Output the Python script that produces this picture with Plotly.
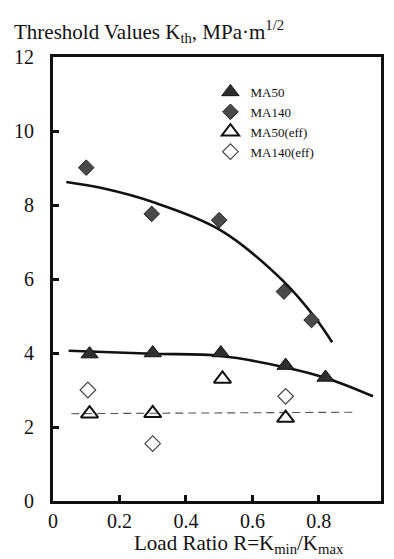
import plotly.graph_objects as go

# ---- data ----
ma50_r = [0.11, 0.30, 0.505, 0.70, 0.82]
ma50_k = [3.97, 4.00, 4.00, 3.66, 3.34]

ma140_r = [0.10, 0.297, 0.50, 0.695, 0.778]
ma140_k = [9.01, 7.76, 7.59, 5.66, 4.89]

ma50eff_r = [0.11, 0.30, 0.51, 0.70]
ma50eff_k = [2.36, 2.37, 3.30, 2.24]

ma140eff_r = [0.105, 0.30, 0.70]
ma140eff_k = [3.00, 1.55, 2.83]

fit140_r = [0.04, 0.15, 0.30, 0.50, 0.69, 0.79, 0.84]
fit140_k = [8.62, 8.45, 8.08, 7.34, 5.97, 4.94, 4.29]

fit50_r = [0.047, 0.30, 0.505, 0.70, 0.83, 0.963]
fit50_k = [4.06, 3.98, 3.92, 3.61, 3.30, 2.83]

fiteff_r = [0.055, 0.913]
fiteff_k = [2.36, 2.40]

xtick_vals = [0, 0.2, 0.4, 0.6, 0.8]
xtick_text = ["0", "0.2", "0.4", "0.6", "0.8"]
ytick_vals = [0, 2, 4, 6, 8, 10, 12]
ytick_text = ["0", "2", "4", "6", "8", "10", "12"]

SERIF = "Liberation Serif, Times New Roman, serif"

fig = go.Figure()

# fitted curves
fig.add_trace(go.Scatter(x=fit140_r, y=fit140_k, mode="lines", line=dict(color="#111", width=2.6, shape="spline"),
                         showlegend=False, hoverinfo="skip"))
fig.add_trace(go.Scatter(x=fit50_r, y=fit50_k, mode="lines", line=dict(color="#111", width=2.6, shape="spline"),
                         showlegend=False, hoverinfo="skip"))
fig.add_trace(go.Scatter(x=fiteff_r, y=fiteff_k, mode="lines", line=dict(color="#555", width=1.1, dash="8px,5px"),
                         showlegend=False, hoverinfo="skip"))

# data series
fig.add_trace(go.Scatter(x=ma50_r, y=ma50_k, mode="markers", name="MA50",
                         marker=dict(symbol="triangle-up", size=15, color="#2e2e2e",
                                     line=dict(color="#111", width=1))))
fig.add_trace(go.Scatter(x=ma140_r, y=ma140_k, mode="markers", name="MA140",
                         marker=dict(symbol="diamond", size=12, color="#4a4a4a",
                                     line=dict(color="#222", width=1))))
fig.add_trace(go.Scatter(x=ma50eff_r, y=ma50eff_k, mode="markers", name="MA50(eff)",
                         marker=dict(symbol="triangle-up-open", size=15, color="#111",
                                     line=dict(color="#111", width=2))))
fig.add_trace(go.Scatter(x=ma140eff_r, y=ma140eff_k, mode="markers", name="MA140(eff)",
                         marker=dict(symbol="diamond-open", size=12, color="#444",
                                     line=dict(color="#444", width=1.2))))

axis_common = dict(showline=True, linecolor="#111", linewidth=3, mirror=True,
                   ticks="inside", ticklen=6, tickwidth=3, tickcolor="#111",
                   showgrid=False, zeroline=False,
                   tickfont=dict(family=SERIF, size=20, color="#111"))

fig.update_xaxes(range=[0, 0.987], tickmode="array", tickvals=xtick_vals, ticktext=xtick_text,
                 ticklabelstandoff=0, **axis_common)
fig.update_yaxes(range=[0, 12], tickmode="array", tickvals=ytick_vals, ticktext=ytick_text,
                 ticklabelstandoff=12, **axis_common)

fig.update_layout(
    width=394, height=559,
    margin=dict(l=53, r=10, t=57, b=58),
    paper_bgcolor="white", plot_bgcolor="white",
    font=dict(family=SERIF, color="#111"),
    legend=dict(x=0.48, y=0.955, xanchor="left", yanchor="top",
                bgcolor="rgba(0,0,0,0)", font=dict(family=SERIF, size=13, color="#111"),
                tracegroupgap=0),
    annotations=[
        dict(text="Threshold Values K<sub>th</sub>, MPa·m<sup>1/2</sup>", xref="paper", yref="paper",
             x=-0.124, y=1.058, xanchor="left", yanchor="middle", showarrow=False,
             font=dict(family=SERIF, size=21, color="#111")),
        dict(text="Load Ratio R=K<sub>min</sub>/K<sub>max</sub>", xref="paper", yref="paper",
             x=0.567, y=-0.128, xanchor="center", yanchor="bottom", showarrow=False,
             borderpad=0,
             font=dict(family=SERIF, size=21, color="#111")),
    ],
)

fig.write_html("out.html")
